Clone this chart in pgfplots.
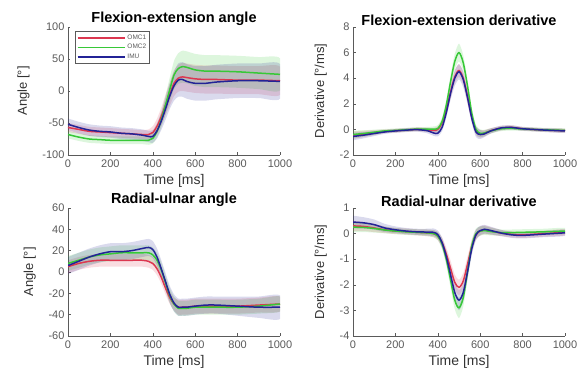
\documentclass[border=0pt]{standalone}
\usepackage{pgfplots}
\pgfplotsset{compat=1.18}
\usepackage{pgfplotstable}
\usepackage{fontspec}
\setmainfont{Liberation Sans}
\definecolor{myred}{RGB}{220,55,80}
\definecolor{mygreen}{RGB}{55,200,55}
\definecolor{myblue}{RGB}{35,35,150}
\definecolor{axc}{RGB}{90,90,90}

\pgfplotstableread{
x r rl rh g gl gh b bl bh
0 -57 -64 -50 -68 -74 -62 -52 -61 -43
50 -60 -67 -53 -72 -78 -66 -57 -66 -48
100 -63 -70 -56 -75 -81 -69 -61 -70 -52
150 -64 -71 -57 -76 -82 -70 -63 -72 -54
200 -65 -72 -58 -77 -83 -71 -64 -73 -55
250 -66 -73 -59 -77 -83 -71 -66 -75 -57
300 -67 -74 -60 -77 -83 -71 -67 -76 -58
350 -68 -75 -61 -77 -83 -71 -69 -78 -60
380 -68 -76 -60 -77 -84 -70 -71 -80 -62
400 -65 -75 -55 -74 -82 -66 -71 -81 -61
420 -55 -67 -43 -63 -73 -53 -62 -74 -50
440 -40 -54 -26 -45 -57 -33 -47 -61 -33
460 -22 -38 -6 -22 -37 -7 -28 -45 -11
480 -5 -23 13 2 -17 21 -8 -28 12
500 12 -8 32 25 3 47 8 -15 31
520 20 -1 41 35 11 59 17 -9 43
540 22 0 44 38 13 63 18 -9 45
560 21 -1 43 37 12 62 15 -12 42
600 19 -3 41 33 8 58 12 -15 39
650 18 -4 40 31 6 56 12 -15 39
700 18 -4 40 31 6 56 14 -13 41
800 17 -5 39 30 5 55 16 -11 43
900 17 -5 39 28 3 53 16 -11 43
1000 16 -6 38 26 1 51 15 -12 42
}\tA

\pgfplotstableread{
x r rl rh g gl gh b bl bh
0 -0.45 -0.75 -0.15 -0.4 -0.7 -0.1 -0.55 -0.85 -0.25
50 -0.35 -0.6 -0.1 -0.32 -0.57 -0.07 -0.45 -0.7 -0.2
100 -0.25 -0.45 -0.05 -0.22 -0.42 -0.02 -0.32 -0.52 -0.12
150 -0.15 -0.3 0 -0.12 -0.27 0.03 -0.2 -0.35 -0.05
200 -0.1 -0.25 0.05 -0.08 -0.23 0.07 -0.12 -0.27 0.03
250 -0.05 -0.2 0.1 -0.03 -0.18 0.12 -0.06 -0.21 0.09
300 0 -0.15 0.15 0.02 -0.13 0.17 -0.02 -0.17 0.13
350 -0.03 -0.2 0.14 0.02 -0.15 0.19 -0.1 -0.3 0.1
380 -0.08 -0.28 0.12 0.03 -0.17 0.23 -0.28 -0.5 -0.06
400 0.0 -0.25 0.25 0.08 -0.17 0.33 -0.3 -0.55 -0.05
420 0.5 0.2 0.8 0.6 0.3 0.9 0.15 -0.15 0.45
440 1.5 1.1 1.9 1.9 1.5 2.3 1.3 0.9 1.7
460 2.9 2.4 3.4 3.7 3.2 4.2 2.8 2.3 3.3
480 4.1 3.6 4.6 5.3 4.7 5.9 4.0 3.4 4.6
500 4.6 4.1 5.1 6.0 5.3 6.7 4.5 3.9 5.1
520 4.0 3.5 4.5 5.2 4.6 5.8 3.9 3.3 4.5
540 2.6 2.1 3.1 3.4 2.9 3.9 2.5 2.0 3.0
560 1.0 0.6 1.4 1.3 0.9 1.7 0.9 0.5 1.3
580 -0.1 -0.45 0.25 0.0 -0.35 0.35 -0.2 -0.6 0.2
600 -0.35 -0.65 -0.05 -0.3 -0.6 0 -0.4 -0.75 -0.05
620 -0.3 -0.55 -0.05 -0.28 -0.53 -0.03 -0.35 -0.6 -0.1
650 -0.1 -0.3 0.1 -0.12 -0.32 0.08 -0.12 -0.32 0.08
700 0.1 -0.08 0.28 0.05 -0.13 0.23 0.12 -0.06 0.3
750 0.15 -0.02 0.32 0.08 -0.09 0.25 0.15 -0.02 0.32
800 0.05 -0.1 0.2 0.03 -0.12 0.18 0.05 -0.1 0.2
900 -0.05 -0.2 0.1 -0.03 -0.18 0.12 -0.05 -0.2 0.1
1000 -0.1 -0.25 0.05 -0.08 -0.23 0.07 -0.12 -0.27 0.03
}\tB

\pgfplotstableread{
x r rl rh g gl gh b bl bh
0 5 -1 11 8 1 15 6 -2 14
50 8 2 14 11 4 18 10 2 18
100 10 4 16 14 7 21 14 6 22
150 11 5 17 16 9 23 17 9 25
200 11 5 17 17 10 24 19 11 27
250 11 5 17 18 11 25 19 11 27
300 11 5 17 18 11 25 20 12 28
350 11 5 17 18 11 25 22 14 30
380 10 4 16 18 11 25 23 15 31
400 8 2 14 16 9 23 21 13 29
420 3 -3 9 11 4 18 14 6 22
440 -5 -11 1 2 -5 9 3 -5 11
460 -15 -21 -9 -10 -17 -3 -9 -17 -1
480 -24 -30 -18 -22 -29 -15 -21 -29 -13
500 -30 -36 -24 -30 -37 -23 -29 -37 -21
520 -33 -40 -26 -34 -41 -27 -33 -41 -25
540 -33 -40 -26 -34 -41 -27 -33 -41 -25
560 -33 -40 -26 -34 -41 -27 -33 -41 -25
600 -32 -39 -25 -33 -40 -26 -32 -40 -24
650 -32 -39 -25 -33 -40 -26 -31 -39 -23
700 -32 -39 -25 -33 -40 -26 -31 -39 -23
800 -32 -39 -25 -33 -40 -26 -32 -41 -23
900 -31 -38 -24 -32 -39 -25 -33 -43 -23
1000 -30 -37 -23 -30 -37 -23 -33 -44 -22
}\tC

\pgfplotstableread{
x r rl rh g gl gh b bl bh
0 0.3 0.1 0.5 0.25 0.05 0.45 0.45 0.2 0.7
50 0.28 0.1 0.46 0.24 0.06 0.42 0.42 0.2 0.64
100 0.22 0.06 0.38 0.2 0.04 0.36 0.35 0.15 0.55
150 0.15 0.02 0.28 0.14 0.01 0.27 0.22 0.06 0.38
200 0.1 -0.02 0.22 0.1 -0.02 0.22 0.15 0.02 0.28
250 0.08 -0.04 0.2 0.07 -0.05 0.19 0.1 -0.02 0.22
300 0.05 -0.07 0.17 0.05 -0.07 0.17 0.07 -0.05 0.19
350 0.03 -0.1 0.16 0.03 -0.1 0.16 0.06 -0.07 0.19
380 0.0 -0.14 0.14 0.0 -0.14 0.14 0.05 -0.1 0.2
400 -0.1 -0.26 0.06 -0.1 -0.26 0.06 -0.04 -0.2 0.12
420 -0.35 -0.55 -0.15 -0.4 -0.6 -0.2 -0.35 -0.55 -0.15
440 -0.8 -1.05 -0.55 -1.0 -1.25 -0.75 -0.9 -1.15 -0.65
460 -1.35 -1.65 -1.05 -1.8 -2.1 -1.5 -1.6 -1.9 -1.3
480 -1.9 -2.2 -1.6 -2.6 -2.95 -2.25 -2.3 -2.65 -1.95
500 -2.1 -2.4 -1.8 -2.9 -3.3 -2.5 -2.6 -3.0 -2.2
520 -1.85 -2.15 -1.55 -2.5 -2.85 -2.15 -2.3 -2.65 -1.95
540 -1.2 -1.5 -0.9 -1.5 -1.8 -1.2 -1.5 -1.8 -1.2
560 -0.5 -0.75 -0.25 -0.5 -0.75 -0.25 -0.6 -0.85 -0.35
580 -0.05 -0.25 0.15 0.0 -0.2 0.2 -0.05 -0.25 0.15
600 0.1 -0.08 0.28 0.1 -0.08 0.28 0.12 -0.06 0.3
620 0.15 -0.02 0.32 0.12 -0.05 0.29 0.17 0.0 0.34
650 0.1 -0.05 0.25 0.08 -0.07 0.23 0.12 -0.03 0.27
700 0.02 -0.1 0.14 0.04 -0.08 0.16 0.02 -0.1 0.14
750 -0.03 -0.15 0.09 0.04 -0.08 0.16 -0.05 -0.17 0.07
800 -0.05 -0.17 0.07 0.05 -0.07 0.17 -0.07 -0.19 0.05
900 0.0 -0.12 0.12 0.07 -0.05 0.19 -0.02 -0.14 0.1
1000 0.05 -0.07 0.17 0.1 -0.02 0.22 0.03 -0.09 0.15
}\tD

% closed band outlines: rows ascending, then the same rows descending
\newcommand{\mkpoly}[3]{%
  \pgfplotstablesort[sort key=x, sort cmp=float <]{#2}{#1}%
  \pgfplotstablesort[sort key=x, sort cmp=float >]{#3}{#1}%
  \pgfplotstablevertcat{#2}{#3}}
\mkpoly{\tA}{\pA}{\rA}
\mkpoly{\tB}{\pB}{\rB}
\mkpoly{\tC}{\pC}{\rC}
\mkpoly{\tD}{\pD}{\rD}

% #1 poly table, #2 number of rows of one half, #3 lower col, #4 upper col, #5 colour
\newcommand{\band}[5]{%
  \addplot[fill=#5, fill opacity=0.17, draw=none, forget plot, smooth, tension=0.4]
    table[x=x, y expr={\coordindex<#2 ? \thisrow{#4} : \thisrow{#3}}]{#1};
}

\pgfplotsset{
  panel/.style={
    width=212pt, height=128pt, scale only axis,
    xmin=0, xmax=1000, xtick={0,200,...,1000},
    axis x line*=bottom, axis y line*=left,
    axis line style={axc, line width=0.5pt, -},
    tick style={axc, line width=0.5pt},
    tick align=inside, major tick length=2.5pt,
    /pgf/number format/assume math mode=true,
    /pgf/number format/1000 sep={},
    ticklabel style={font=\fontsize{11}{13}\selectfont, text=axc},
    xticklabel style={yshift=-1.5pt},
    xlabel style={font=\fontsize{14}{16}\selectfont, text=black!80},
    ylabel style={font=\fontsize{13}{15}\selectfont, text=black!80},
    ylabel shift=6pt,
    title style={font=\fontsize{14.5}{16}\selectfont\bfseries, yshift=-8pt},
    xlabel={Time [ms]},
  },
  mline/.style={draw=#1, line width=1.5pt, smooth, mark=none},
}

\begin{document}
\begin{tikzpicture}

\begin{axis}[panel, at={(68pt,215pt)}, anchor=south west,
  title={Flexion-extension angle}, ylabel={Angle [°]},
  ymin=-100, ymax=100, ytick={-100,-50,0,50,100},
  legend style={at={(0.035,0.965)}, anchor=north west, draw=axc, line width=0.4pt,
    font=\fontsize{6.5}{7}\selectfont, text=axc, inner sep=1.2pt, row sep=-0.5pt,
    fill=white},
  legend cell align=left,
  legend image code/.code={\draw[#1, line width=1.7pt] (0,0) -- (1.65cm,0);}]
\band{\pA}{24}{rl}{rh}{myred}
\band{\pA}{24}{gl}{gh}{mygreen}
\band{\pA}{24}{bl}{bh}{myblue}
\addplot[mline=myred] table[x=x,y=r]{\tA}; \addlegendentry{OMC1}
\addplot[mline=mygreen] table[x=x,y=g]{\tA}; \addlegendentry{OMC2}
\addplot[mline=myblue] table[x=x,y=b]{\tA}; \addlegendentry{IMU}
\end{axis}

\begin{axis}[panel, at={(353pt,215pt)}, anchor=south west,
  title={Flexion-extension derivative}, ylabel={Derivative [°/ms]},
  ymin=-2, ymax=8, ytick={-2,0,2,4,6,8}]
\band{\pB}{27}{rl}{rh}{myred}
\band{\pB}{27}{gl}{gh}{mygreen}
\band{\pB}{27}{bl}{bh}{myblue}
\addplot[mline=myred] table[x=x,y=r]{\tB};
\addplot[mline=mygreen] table[x=x,y=g]{\tB};
\addplot[mline=myblue] table[x=x,y=b]{\tB};
\end{axis}

\begin{axis}[panel, at={(68pt,34pt)}, anchor=south west,
  title={Radial-ulnar angle}, ylabel={Angle [°]},
  ymin=-60, ymax=60, ytick={-60,-40,...,60}]
\band{\pC}{24}{rl}{rh}{myred}
\band{\pC}{24}{gl}{gh}{mygreen}
\band{\pC}{24}{bl}{bh}{myblue}
\addplot[mline=myred] table[x=x,y=r]{\tC};
\addplot[mline=mygreen] table[x=x,y=g]{\tC};
\addplot[mline=myblue] table[x=x,y=b]{\tC};
\end{axis}

\begin{axis}[panel, at={(353pt,34pt)}, anchor=south west,
  title={Radial-ulnar derivative}, ylabel={Derivative [°/ms]},
  ymin=-4, ymax=1, ytick={-4,-3,...,1}]
\band{\pD}{27}{rl}{rh}{myred}
\band{\pD}{27}{gl}{gh}{mygreen}
\band{\pD}{27}{bl}{bh}{myblue}
\addplot[mline=myred] table[x=x,y=r]{\tD};
\addplot[mline=mygreen] table[x=x,y=g]{\tD};
\addplot[mline=myblue] table[x=x,y=b]{\tD};
\end{axis}
\path (0,0) rectangle (587pt,370pt);
\end{tikzpicture}
\end{document}
